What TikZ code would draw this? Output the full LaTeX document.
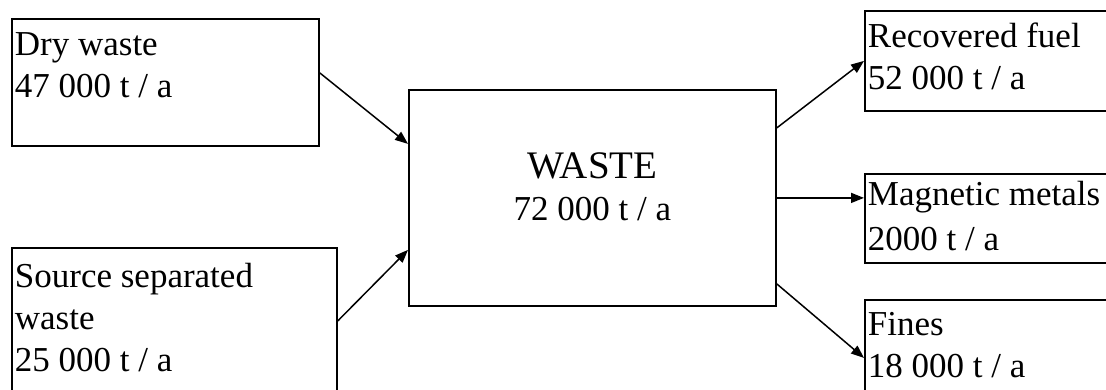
\documentclass[tikz,border=0pt]{standalone}
\usepackage{fontspec}
\setmainfont{Liberation Serif}
\usetikzlibrary{arrows.meta}

\begin{document}
\begin{tikzpicture}[->,>={Triangle[length=13pt,width=10pt]},x=1pt,y=1pt,
  box node/.style={rectangle,draw,line width=1.8pt,anchor=north west,align=flush left,
    inner xsep=3pt,inner ysep=0pt,font=\fontsize{35}{42}\selectfont}]
  \tikzset{FlowStyle/.style = {line width=1.5pt}}
  \useasboundingbox (0,0) rectangle (1106,-389);
  \clip (0,0) rectangle (1106,-389);
  % inputs
  \node[box node,text width=301pt,text height=37pt,text depth=90pt] (dry) at (11,-18) {Dry waste\\47 000 t / a};
  \node[box node,text width=319pt,text height=40pt,text depth=106pt] (source) at (11,-247) {Source separated\\waste\\25 000 t / a};
  % plant
  \node[box node,align=flush center,text width=361pt,text height=89pt,text depth=127pt] (waste) at (408,-89) {{\fontsize{39}{42}\selectfont WASTE}\\72 000 t / a};
  % outputs
  \node[box node,text width=245pt,text height=37pt,text depth=63pt] (fuel) at (864,-10) {Recovered fuel\\52 000 t / a};
  \node[box node,text width=245pt,text height=32pt,text depth=57pt] (metals) at (864,-173) {Magnetic metals\\[3pt]2000 t / a};
  \node[box node,text width=245pt,text height=36pt,text depth=80pt] (fines) at (864,-299) {Fines\\18 000 t / a};

    \path[FlowStyle]
    ([yshift=9.5pt]dry.east) edge ([yshift=54pt]waste.west)
    (source.east) edge ([yshift=-52pt]waste.west)
    ([yshift=70pt]waste.east) edge (fuel.west)
    (waste.east) edge (waste.east -| metals.west)
    ([yshift=-86pt]waste.east) edge (fines.west);
\end{tikzpicture}
\end{document}
